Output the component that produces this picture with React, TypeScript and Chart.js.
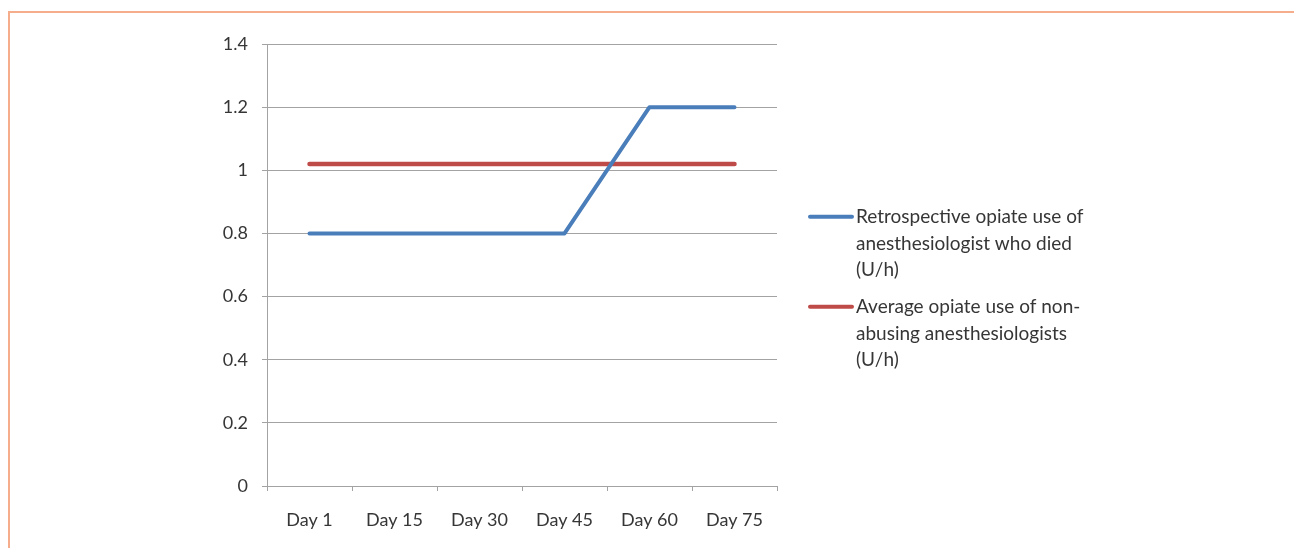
import React, { useEffect, useRef } from "react";
import { Chart, registerables } from "chart.js";

Chart.register(...registerables);

const categories = ["Day 1", "Day 15", "Day 30", "Day 45", "Day 60", "Day 75"];
const diedValues = [0.8, 0.8, 0.8, 0.8, 1.2, 1.2];
const averageValues = [1.02, 1.02, 1.02, 1.02, 1.02, 1.02];
const diedLabel = ["Retrospective opiate use of", "anesthesiologist who died", "(U/h)"];
const averageLabel = ["Average opiate use of non-", "abusing anesthesiologists", "(U/h)"];
const yTicks = [0, 0.2, 0.4, 0.6, 0.8, 1, 1.2, 1.4];

const FONT = "Lato, 'Open Sans', sans-serif";
const TEXT = "#363636";
const GRID = "#a3a3a3";

const legendLines = [diedLabel, averageLabel];

const sideLegend = {
  id: "sideLegend",
  afterDraw(chart: any) {
    const { ctx, chartArea } = chart;
    ctx.save();
    ctx.font = `19px ${FONT}`;
    ctx.fillStyle = TEXT;
    ctx.textBaseline = "alphabetic";
    ctx.textAlign = "left";
    const x0 = chartArea.right + 32;
    chart.data.datasets.forEach((ds: any, i: number) => {
      const markerY = chartArea.top + 172.7 + i * 90;
      ctx.strokeStyle = ds.borderColor;
      ctx.lineWidth = 4;
      ctx.lineCap = "round";
      ctx.beginPath();
      ctx.moveTo(x0 + 1, markerY);
      ctx.lineTo(x0 + 43, markerY);
      ctx.stroke();
      const lines = legendLines[i];
      lines.forEach((t: string, j: number) => {
        ctx.fillText(t, x0 + 47, markerY + 6.5 + j * 26.5);
      });
    });
    ctx.restore();
  },
};

export default function App() {
  const ref = useRef<HTMLCanvasElement>(null);
  useEffect(() => {
    if (!ref.current) return;
    const chart = new Chart(ref.current, {
      type: "line",
      data: {
        labels: categories,
        datasets: [
          {
            label: diedLabel.join(" "),
            data: diedValues,
            borderColor: "#4a7ebb",
            borderWidth: 4,
            borderCapStyle: "round",
            borderJoinStyle: "round",
            pointRadius: 0,
            tension: 0,
            fill: false,
          },
          {
            label: averageLabel.join(" "),
            data: averageValues,
            borderColor: "#be4b48",
            borderWidth: 4.5,
            borderCapStyle: "round",
            pointRadius: 0,
            tension: 0,
            fill: false,
          },
        ],
      },
      options: {
        animation: false,
        responsive: false,
        maintainAspectRatio: false,
        layout: { padding: { top: 33, right: 517, bottom: 0, left: 0 } },
        plugins: {
          legend: { display: false },
          tooltip: { enabled: false },
        },
        scales: {
          x: {
            type: "category",
            offset: true,
            grid: {
              offset: true,
              drawOnChartArea: false,
              drawTicks: true,
              tickLength: 5,
              color: GRID,
              lineWidth: 1,
            },
            border: { display: true, color: GRID, width: 1 },
            ticks: {
              color: TEXT,
              font: { family: FONT, size: 18 },
              padding: 18,
              maxRotation: 0,
            },
            afterFit: (scale: any) => {
              scale.height = 54;
            },
          },
          y: {
            min: 0,
            max: 1.4,
            afterBuildTicks: (scale: any) => {
              scale.ticks = yTicks.map((v) => ({ value: v }));
            },
            grid: {
              drawTicks: true,
              tickLength: 5,
              color: GRID,
              lineWidth: 1,
            },
            border: { display: true, color: GRID, width: 1 },
            ticks: {
              color: TEXT,
              font: { family: FONT, size: 18 },
              padding: 14,
              callback: (v: any) => String(Math.round(Number(v) * 10) / 10),
            },
            afterFit: (scale: any) => {
              scale.width = 259;
            },
          },
        },
      },
      plugins: [sideLegend],
    } as any);
    return () => chart.destroy();
  }, []);

  return (
    <div style={{ paddingTop: 3 }}>
      <div style={{ position: "relative", width: 1286, height: 529 }}>
        <canvas
          ref={ref}
          width={1286}
          height={529}
          style={{ position: "absolute", left: 0, top: 0, width: 1286, height: 529 }}
        />
      </div>
      <div
        style={{
          position: "fixed",
          left: 8,
          top: 11,
          width: 1400,
          height: 700,
          borderTop: "2px solid #f5ad8c",
          borderLeft: "2px solid #f5ad8c",
          pointerEvents: "none",
        }}
      />
    </div>
  );
}
